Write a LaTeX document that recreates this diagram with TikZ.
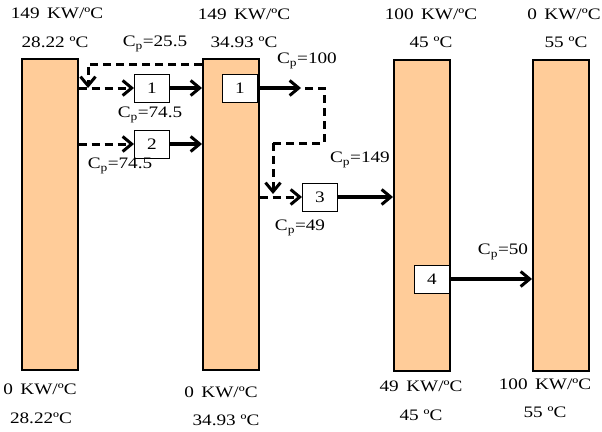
\documentclass[tikz,border=0pt]{standalone}
\usepackage{fontspec}
\setmainfont{Liberation Serif}[FakeStretch=1.2]
\usetikzlibrary{arrows.meta}
\definecolor{peach}{RGB}{255,204,153}
\tikzset{
  col/.style={draw=black, line width=1.5pt, fill=peach, minimum width=56pt, minimum height=311pt, inner sep=0pt, anchor=north west},
  hx/.style={draw=black, line width=1pt, fill=white, minimum width=35pt, minimum height=28pt, inner sep=0pt, font=\fontsize{16}{16}\selectfont},
  lbl/.style={font=\fontsize{16}{16}\selectfont, inner sep=0pt, align=center},
  tip/.style={-{Straight Barb[length=9pt,width=15pt,line width=3pt]}},
  solidarrow/.style={line width=3.2pt, tip},
  dasharrow/.style={line width=3pt, dash pattern=on 8pt off 5pt, tip},
  dashline/.style={line width=3pt, dash pattern=on 8pt off 5pt},
}
\begin{document}
\begin{tikzpicture}[x=1pt,y=-1pt]
\useasboundingbox (0,0) rectangle (602,431);
% columns
\node[col] (R1) at (21,58) {};
\node[col] (R2) at (202,58) {};
\node[col] (R3) at (393,59) {};
\node[col] (R4) at (532,59) {};
% top labels
\node[lbl] (t1a) at (57,13) {149 \,KW/ºC};
\node[lbl] (t1b) at (55,42) {28.22 ºC};
\node[lbl] (t2a) at (244,14) {149 \,KW/ºC};
\node[lbl] (t2b) at (244,42) {34.93 ºC};
\node[lbl] (t3a) at (431,14) {100 \,KW/ºC};
\node[lbl] (t3b) at (431,42) {45 ºC};
\node[lbl] (t4a) at (564,14) {0 \,KW/ºC};
\node[lbl] (t4b) at (566,42) {55 ºC};
% bottom labels
\node[lbl] (b1a) at (40,389) {0 \,KW/ºC};
\node[lbl] (b1b) at (41,418) {28.22ºC};
\node[lbl] (b2a) at (221,392) {0 \,KW/ºC};
\node[lbl] (b2b) at (226,420) {34.93 ºC};
\node[lbl] (b3a) at (421,386) {49 \,KW/ºC};
\node[lbl] (b3b) at (421,415) {45 ºC};
\node[lbl] (b4a) at (545,384) {100 \,KW/ºC};
\node[lbl] (b4b) at (545,412) {55 ºC};
% exchangers
\node[hx] (h1) at (152,88) {1};
\node[hx] (h2) at (152,144) {2};
\node[hx] (h1b) at (240,88) {1};
\node[hx] (h3) at (320,197) {3};
\node[hx] (h4) at (432,279) {4};
% Cp labels
\node[lbl] (c1) at (155,44) {C\textsubscript{p}=25.5};
\node[lbl] (c2) at (150,115) {C\textsubscript{p}=74.5};
\node[lbl] (c3) at (120,166) {C\textsubscript{p}=74.5};
\node[lbl] (c4) at (307,61) {C\textsubscript{p}=100};
\node[lbl] (c5) at (360,160) {C\textsubscript{p}=149};
\node[lbl] (c6) at (300,228) {C\textsubscript{p}=49};
\node[lbl] (c7) at (503,252) {C\textsubscript{p}=50};
% connectors: exchanger 1 (left)
\draw[dasharrow] (h1.west -| R1.east) -- (h1.west);
\draw[solidarrow] (h1.east) -- (h1.east -| R2.west);
% bypass back to R1 stream
\coordinate (bpA) at (202,64);
\coordinate (bpB) at (88,64);
\coordinate (bpC) at (88,88);
\draw[dasharrow] (bpA) -- (bpB) -- (bpC);
% exchanger 2
\draw[dasharrow] (h2.west -| R1.east) -- (h2.west);
\draw[solidarrow] (h2.east) -- (h2.east -| R2.west);
% exchanger 1 in R2
\coordinate (o1) at (301,88);
\draw[solidarrow] (h1b.east) -- (o1);
\coordinate (d0) at (305,88);
\coordinate (d1) at (324,88);
\coordinate (d2) at (324,143);
\coordinate (d3) at (273,143);
\coordinate (d4) at (273,194);
\draw[dashline] (d0) -- (d1) -- (d2) -- (d3);
\draw[dasharrow] (d3) -- (d4);
% exchanger 3
\draw[dasharrow] (h3.west -| R2.east) -- (h3.west);
\draw[solidarrow] (h3.east) -- (h3.east -| R3.west);
% exchanger 4
\draw[solidarrow] (h4.east) -- (h4.east -| R4.west);
\end{tikzpicture}
\end{document}
